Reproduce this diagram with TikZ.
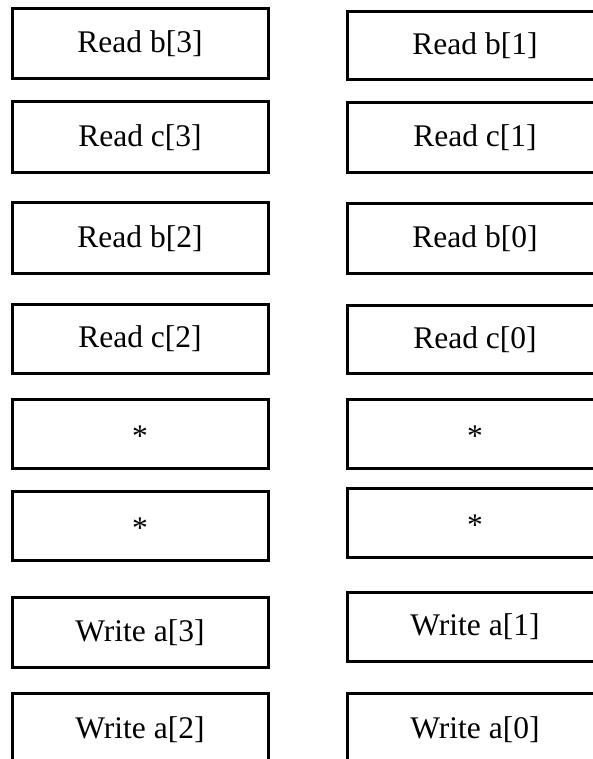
\documentclass[tikz,border=0pt]{standalone}
\usepackage{fontspec}
\setmainfont{Liberation Serif}
\begin{document}
\begin{tikzpicture}[x=1pt,y=-1pt,
  cell/.style={draw=black, line width=3pt, rectangle, inner sep=0pt, fill=white},
  lbl/.style={anchor=base, inner sep=0pt, font=\fontsize{31.5}{36}\selectfont}]
\useasboundingbox (0,0) rectangle (593,759);
\clip (0,0) rectangle (593,759);
% left column: x 12..268 ; right column x 347..603
\foreach \n/\t/\b in {L1/9/79, L2/102/173, L3/203/273, L4/304/373, L5/399/468, L6/491/560, L7/597/667, L8/693/766}{
  \node[cell, minimum width=256pt, minimum height={(\b-\t)*1pt}] (\n) at (140,{(\t+\b)/2}) {};
}
\foreach \n/\t/\b in {R1/12/80, R2/103/173, R3/204/273, R4/305/373, R5/399/468, R6/488/557, R7/592/661, R8/693/766}{
  \node[cell, minimum width=256pt, minimum height={(\b-\t)*1pt}] (\n) at (475,{(\t+\b)/2}) {};
}
\node[lbl] (tL1) at ([yshift=-9pt]L1.center) {Read b[3]};
\node[lbl] (tL2) at ([yshift=-9pt]L2.center) {Read c[3]};
\node[lbl] (tL3) at ([yshift=-9pt]L3.center) {Read b[2]};
\node[lbl] (tL4) at ([yshift=-9pt]L4.center) {Read c[2]};
\node[lbl] (tL5) at ([yshift=-12.5pt]L5.center) {*};
\node[lbl] (tL6) at ([yshift=-12.5pt]L6.center) {*};
\node[lbl] (tL7) at ([yshift=-9pt]L7.center) {Write a[3]};
\node[lbl] (tL8) at ([yshift=-9pt]L8.center) {Write a[2]};
\node[lbl] (tR1) at ([yshift=-9pt]R1.center) {Read b[1]};
\node[lbl] (tR2) at ([yshift=-9pt]R2.center) {Read c[1]};
\node[lbl] (tR3) at ([yshift=-9pt]R3.center) {Read b[0]};
\node[lbl] (tR4) at ([yshift=-9pt]R4.center) {Read c[0]};
\node[lbl] (tR5) at ([yshift=-12.5pt]R5.center) {*};
\node[lbl] (tR6) at ([yshift=-12.5pt]R6.center) {*};
\node[lbl] (tR7) at ([yshift=-9pt]R7.center) {Write a[1]};
\node[lbl] (tR8) at ([yshift=-9pt]R8.center) {Write a[0]};
\end{tikzpicture}
\end{document}
